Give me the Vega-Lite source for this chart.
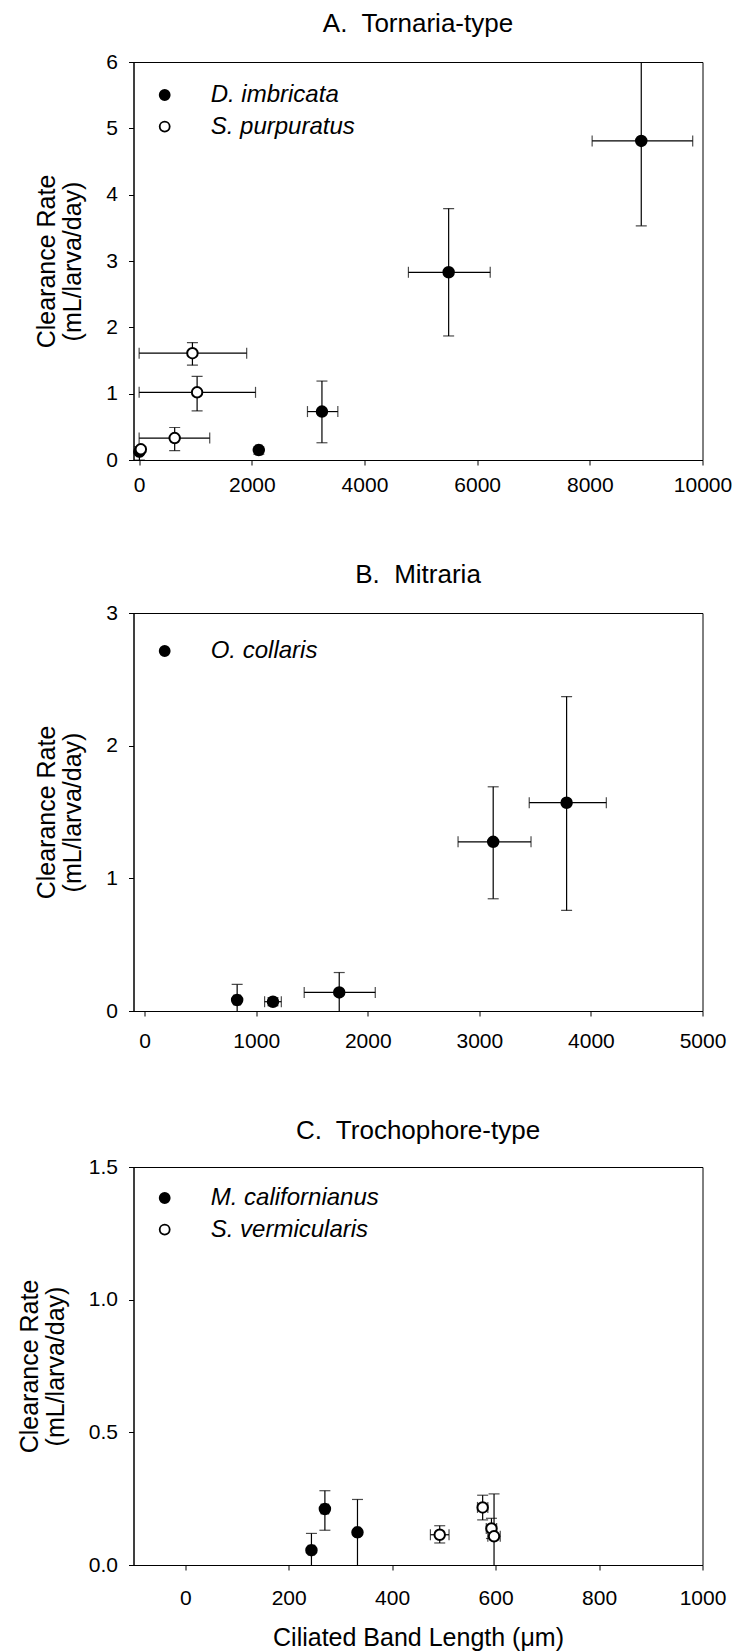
{
  "$schema": "https://vega.github.io/schema/vega-lite/v6.json",
  "padding": {"left": 16.5, "top": 10, "right": 5, "bottom": 5},
  "datasets": {
    "A": [
      {"sp": "D. imbricata", "x": 8913, "xlo": 8041, "xhi": 9826, "y": 4.81, "ylo": 3.53, "yhi": 6.09},
      {"sp": "D. imbricata", "x": 5494, "xlo": 4780, "xhi": 6232, "y": 2.83, "ylo": 1.87, "yhi": 3.79},
      {"sp": "D. imbricata", "x": 3245, "xlo": 2988, "xhi": 3527, "y": 0.73, "ylo": 0.26, "yhi": 1.19},
      {"sp": "D. imbricata", "x": 2124, "xlo": 2070, "xhi": 2180, "y": 0.15, "ylo": 0.09, "yhi": 0.2},
      {"sp": "D. imbricata", "x": 5, "xlo": -40, "xhi": 50, "y": 0.125, "ylo": 0.0, "yhi": 0.2},
      {"sp": "S. purpuratus", "x": 946, "xlo": 0, "xhi": 1909, "y": 1.61, "ylo": 1.43, "yhi": 1.77},
      {"sp": "S. purpuratus", "x": 1029, "xlo": 0, "xhi": 2066, "y": 1.02, "ylo": 0.74, "yhi": 1.26},
      {"sp": "S. purpuratus", "x": 631, "xlo": 0, "xhi": 1253, "y": 0.33, "ylo": 0.14, "yhi": 0.49},
      {"sp": "S. purpuratus", "x": 30, "xlo": 0, "xhi": 60, "y": 0.161, "ylo": 0.12, "yhi": 0.2}
    ],
    "B": [
      {"sp": "O. collaris", "x": 829, "xlo": 800, "xhi": 858, "y": 0.083, "ylo": -0.04, "yhi": 0.2},
      {"sp": "O. collaris", "x": 1150, "xlo": 1075, "xhi": 1225, "y": 0.07, "ylo": 0.04, "yhi": 0.1},
      {"sp": "O. collaris", "x": 1744, "xlo": 1430, "xhi": 2067, "y": 0.14, "ylo": -0.01, "yhi": 0.29},
      {"sp": "O. collaris", "x": 3124, "xlo": 2809, "xhi": 3463, "y": 1.275, "ylo": 0.846, "yhi": 1.69},
      {"sp": "O. collaris", "x": 3782, "xlo": 3447, "xhi": 4138, "y": 1.57, "ylo": 0.758, "yhi": 2.37}
    ],
    "C": [
      {"sp": "M. californianus", "x": 244, "xlo": 238, "xhi": 250, "y": 0.056, "ylo": -0.01, "yhi": 0.119},
      {"sp": "M. californianus", "x": 270, "xlo": 263, "xhi": 277, "y": 0.211, "ylo": 0.131, "yhi": 0.28},
      {"sp": "M. californianus", "x": 333, "xlo": 328, "xhi": 338, "y": 0.123, "ylo": -0.01, "yhi": 0.247},
      {"sp": "S. vermicularis", "x": 492, "xlo": 474, "xhi": 510, "y": 0.114, "ylo": 0.083, "yhi": 0.148},
      {"sp": "S. vermicularis", "x": 575, "xlo": 565, "xhi": 585, "y": 0.217, "ylo": 0.17, "yhi": 0.263},
      {"sp": "S. vermicularis", "x": 592, "xlo": 582, "xhi": 602, "y": 0.138, "ylo": 0.1, "yhi": 0.176},
      {"sp": "S. vermicularis", "x": 597, "xlo": 585, "xhi": 609, "y": 0.108, "ylo": -0.05, "yhi": 0.268}
    ]
  },
  "config": {
    "font": "Liberation Sans",
    "view": {"stroke": "black", "strokeWidth": 1},
    "axis": {
      "domainColor": "black", "tickColor": "black", "tickSize": 5, "grid": false,
      "labelFontSize": 21, "labelColor": "black", "labelFont": "Liberation Sans",
      "titleFontSize": 25, "titleFontWeight": "normal", "titleColor": "black", "titleFont": "Liberation Sans"
    },
    "axisX": {"labelFlush": false},
    "axisY": {"labelPadding": 11, "titlePadding": 20, "titleLineHeight": 26},
    "title": {"fontSize": 26, "fontWeight": "normal", "color": "black", "offset": 14, "baseline": "alphabetic", "anchor": "middle", "font": "Liberation Sans"},
    "legend": {
      "title": null, "orient": "top-left", "padding": 0,
      "labelFontSize": 24, "labelFontStyle": "italic", "labelColor": "black", "labelFont": "Liberation Sans", "labelLimit": 500,
      "labelOffset": 34, "rowPadding": 7.6, "symbolType": "circle", "symbolSize": 100,
      "symbolStrokeColor": "black", "symbolStrokeWidth": 1.8
    }
  },
  "spacing": 65,
  "resolve": {"scale": {"fill": "independent"}},
  "vconcat": [
    {
      "title": "A.\u00a0 Tornaria-type",
      "width": 569, "height": 398,
      "data": {"name": "A"},
      "layer": [
        {"mark": {"type": "rule", "clip": true, "color": "#000", "strokeWidth": 1.2},
         "encoding": {
           "x": {"field": "xlo", "type": "quantitative", "title": null, "scale": {"domain": [-100, 10000], "nice": false, "zero": false}, "axis": {"values": [0, 2000, 4000, 6000, 8000, 10000], "format": "d", "labelPadding": 9}},
           "x2": {"field": "xhi"},
           "y": {"field": "y", "type": "quantitative", "title": ["Clearance Rate", "(mL/larva/day)"], "scale": {"domain": [0, 6], "nice": false}, "axis": {"values": [0, 1, 2, 3, 4, 5, 6], "format": "d"}}
         }},
        {"mark": {"type": "rule", "clip": true, "color": "#000", "strokeWidth": 1.2},
         "encoding": {
           "x": {"field": "x", "type": "quantitative", "title": null},
           "y": {"field": "ylo", "type": "quantitative", "title": ["Clearance Rate", "(mL/larva/day)"]},
           "y2": {"field": "yhi"}
         }},
        {"mark": {"type": "tick", "orient": "vertical", "size": 11, "thickness": 1.2, "clip": true, "color": "#000"},
         "encoding": {"x": {"field": "xlo", "type": "quantitative", "title": null}, "y": {"field": "y", "type": "quantitative", "title": ["Clearance Rate", "(mL/larva/day)"]}}},
        {"mark": {"type": "tick", "orient": "vertical", "size": 11, "thickness": 1.2, "clip": true, "color": "#000"},
         "encoding": {"x": {"field": "xhi", "type": "quantitative", "title": null}, "y": {"field": "y", "type": "quantitative", "title": ["Clearance Rate", "(mL/larva/day)"]}}},
        {"mark": {"type": "tick", "orient": "horizontal", "size": 11, "thickness": 1.2, "clip": true, "color": "#000"},
         "encoding": {"x": {"field": "x", "type": "quantitative", "title": null}, "y": {"field": "ylo", "type": "quantitative", "title": ["Clearance Rate", "(mL/larva/day)"]}}},
        {"mark": {"type": "tick", "orient": "horizontal", "size": 11, "thickness": 1.2, "clip": true, "color": "#000"},
         "encoding": {"x": {"field": "x", "type": "quantitative", "title": null}, "y": {"field": "yhi", "type": "quantitative", "title": ["Clearance Rate", "(mL/larva/day)"]}}},
        {"mark": {"type": "point", "shape": "circle", "filled": true, "stroke": "black", "strokeWidth": 2, "size": 110, "opacity": 1},
         "encoding": {
           "x": {"field": "x", "type": "quantitative", "title": null},
           "y": {"field": "y", "type": "quantitative", "title": ["Clearance Rate", "(mL/larva/day)"]},
           "fill": {"field": "sp", "type": "nominal", "scale": {"domain": ["D. imbricata", "S. purpuratus"], "range": ["black", "white"]}, "legend": {"offset": 21, "symbolOffset": -1.8}}
         }}
      ]
    },
    {
      "title": "B.\u00a0 Mitraria",
      "width": 569, "height": 398,
      "data": {"name": "B"},
      "layer": [
        {"mark": {"type": "rule", "clip": true, "color": "#000", "strokeWidth": 1.2},
         "encoding": {
           "x": {"field": "xlo", "type": "quantitative", "title": null, "scale": {"domain": [-100, 5000], "nice": false, "zero": false}, "axis": {"values": [0, 1000, 2000, 3000, 4000, 5000], "format": "d", "labelPadding": 14}},
           "x2": {"field": "xhi"},
           "y": {"field": "y", "type": "quantitative", "title": ["Clearance Rate", "(mL/larva/day)"], "scale": {"domain": [0, 3], "nice": false}, "axis": {"values": [0, 1, 2, 3], "format": "d"}}
         }},
        {"mark": {"type": "rule", "clip": true, "color": "#000", "strokeWidth": 1.2},
         "encoding": {
           "x": {"field": "x", "type": "quantitative", "title": null},
           "y": {"field": "ylo", "type": "quantitative", "title": ["Clearance Rate", "(mL/larva/day)"]},
           "y2": {"field": "yhi"}
         }},
        {"mark": {"type": "tick", "orient": "vertical", "size": 11, "thickness": 1.2, "clip": true, "color": "#000"},
         "encoding": {"x": {"field": "xlo", "type": "quantitative", "title": null}, "y": {"field": "y", "type": "quantitative", "title": ["Clearance Rate", "(mL/larva/day)"]}}},
        {"mark": {"type": "tick", "orient": "vertical", "size": 11, "thickness": 1.2, "clip": true, "color": "#000"},
         "encoding": {"x": {"field": "xhi", "type": "quantitative", "title": null}, "y": {"field": "y", "type": "quantitative", "title": ["Clearance Rate", "(mL/larva/day)"]}}},
        {"mark": {"type": "tick", "orient": "horizontal", "size": 11, "thickness": 1.2, "clip": true, "color": "#000"},
         "encoding": {"x": {"field": "x", "type": "quantitative", "title": null}, "y": {"field": "ylo", "type": "quantitative", "title": ["Clearance Rate", "(mL/larva/day)"]}}},
        {"mark": {"type": "tick", "orient": "horizontal", "size": 11, "thickness": 1.2, "clip": true, "color": "#000"},
         "encoding": {"x": {"field": "x", "type": "quantitative", "title": null}, "y": {"field": "yhi", "type": "quantitative", "title": ["Clearance Rate", "(mL/larva/day)"]}}},
        {"mark": {"type": "point", "shape": "circle", "filled": true, "stroke": "black", "strokeWidth": 2, "size": 110, "opacity": 1},
         "encoding": {
           "x": {"field": "x", "type": "quantitative", "title": null},
           "y": {"field": "y", "type": "quantitative", "title": ["Clearance Rate", "(mL/larva/day)"]},
           "fill": {"field": "sp", "type": "nominal", "scale": {"domain": ["O. collaris"], "range": ["black"]}, "legend": {"offset": 26, "symbolOffset": -6.8}}
         }}
      ]
    },
    {
      "title": {"text": "C.\u00a0 Trochophore-type", "offset": 12},
      "width": 569, "height": 398,
      "data": {"name": "C"},
      "layer": [
        {"mark": {"type": "rule", "clip": true, "color": "#000", "strokeWidth": 1.2},
         "encoding": {
           "x": {"field": "xlo", "type": "quantitative", "title": "Ciliated Band Length (μm)", "scale": {"domain": [-100, 1000], "nice": false, "zero": false}, "axis": {"values": [0, 200, 400, 600, 800, 1000], "format": "d", "labelPadding": 17, "titlePadding": 17}},
           "x2": {"field": "xhi"},
           "y": {"field": "y", "type": "quantitative", "title": ["Clearance Rate", "(mL/larva/day)"], "scale": {"domain": [0, 1.5], "nice": false}, "axis": {"values": [0, 0.5, 1, 1.5], "format": ".1f"}}
         }},
        {"mark": {"type": "rule", "clip": true, "color": "#000", "strokeWidth": 1.2},
         "encoding": {
           "x": {"field": "x", "type": "quantitative", "title": "Ciliated Band Length (μm)"},
           "y": {"field": "ylo", "type": "quantitative", "title": ["Clearance Rate", "(mL/larva/day)"]},
           "y2": {"field": "yhi"}
         }},
        {"mark": {"type": "tick", "orient": "vertical", "size": 11, "thickness": 1.2, "clip": true, "color": "#000"},
         "encoding": {"x": {"field": "xlo", "type": "quantitative", "title": "Ciliated Band Length (μm)"}, "y": {"field": "y", "type": "quantitative", "title": ["Clearance Rate", "(mL/larva/day)"]}}},
        {"mark": {"type": "tick", "orient": "vertical", "size": 11, "thickness": 1.2, "clip": true, "color": "#000"},
         "encoding": {"x": {"field": "xhi", "type": "quantitative", "title": "Ciliated Band Length (μm)"}, "y": {"field": "y", "type": "quantitative", "title": ["Clearance Rate", "(mL/larva/day)"]}}},
        {"mark": {"type": "tick", "orient": "horizontal", "size": 11, "thickness": 1.2, "clip": true, "color": "#000"},
         "encoding": {"x": {"field": "x", "type": "quantitative", "title": "Ciliated Band Length (μm)"}, "y": {"field": "ylo", "type": "quantitative", "title": ["Clearance Rate", "(mL/larva/day)"]}}},
        {"mark": {"type": "tick", "orient": "horizontal", "size": 11, "thickness": 1.2, "clip": true, "color": "#000"},
         "encoding": {"x": {"field": "x", "type": "quantitative", "title": "Ciliated Band Length (μm)"}, "y": {"field": "yhi", "type": "quantitative", "title": ["Clearance Rate", "(mL/larva/day)"]}}},
        {"mark": {"type": "point", "shape": "circle", "filled": true, "stroke": "black", "strokeWidth": 2, "size": 110, "opacity": 1},
         "encoding": {
           "x": {"field": "x", "type": "quantitative", "title": "Ciliated Band Length (μm)"},
           "y": {"field": "y", "type": "quantitative", "title": ["Clearance Rate", "(mL/larva/day)"]},
           "fill": {"field": "sp", "type": "nominal", "scale": {"domain": ["M. californianus", "S. vermicularis"], "range": ["black", "white"]}, "legend": {"offset": 19, "symbolOffset": 0.2}}
         }}
      ]
    }
  ]
}
